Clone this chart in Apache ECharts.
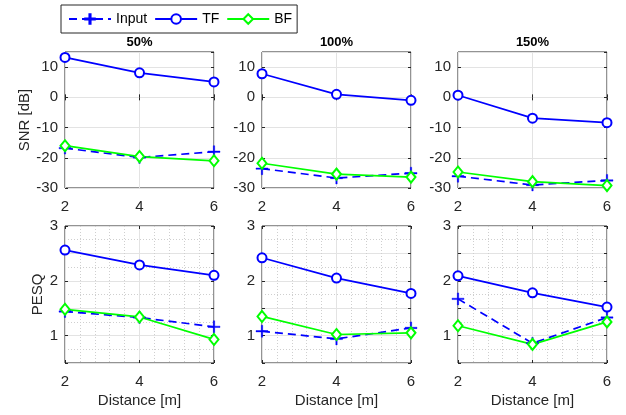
<!DOCTYPE html>
<html><head><meta charset="utf-8">
<script src="https://cdn.jsdelivr.net/npm/echarts@6/dist/echarts.min.js"></script>
<style>html,body{margin:0;padding:0;background:#fff}#c{width:626px;height:415px}</style>
</head><body><div id="c"></div>
<script>
const distances = [2, 4, 6];
const panelTitles = ['50%', '100%', '150%'];
const seriesNames = ['Input', 'TF', 'BF'];
const snrTicks = [-30, -20, -10, 0, 10];
const pesqTicks = [1, 2, 3];

const snrInput50 = [-16.8, -19.9, -18.0];
const snrTF50 = [13.2, 8.1, 5.1];
const snrBF50 = [-16.0, -19.6, -21.0];
const snrInput100 = [-23.6, -26.7, -25.1];
const snrTF100 = [7.8, 1.0, -1.0];
const snrBF100 = [-21.8, -25.4, -26.4];
const snrInput150 = [-26.1, -29.0, -27.5];
const snrTF150 = [0.7, -6.9, -8.4];
const snrBF150 = [-24.7, -27.9, -29.2];

const pesqInput50 = [1.44, 1.33, 1.16];
const pesqTF50 = [2.56, 2.29, 2.10];
const pesqBF50 = [1.48, 1.34, 0.93];
const pesqInput100 = [1.08, 0.94, 1.14];
const pesqTF100 = [2.42, 2.05, 1.77];
const pesqBF100 = [1.35, 1.02, 1.05];
const pesqInput150 = [1.67, 0.86, 1.33];
const pesqTF150 = [2.09, 1.78, 1.52];
const pesqBF150 = [1.18, 0.84, 1.25];

const snrData = [
  [snrInput50, snrTF50, snrBF50],
  [snrInput100, snrTF100, snrBF100],
  [snrInput150, snrTF150, snrBF150]
];
const pesqData = [
  [pesqInput50, pesqTF50, pesqBF50],
  [pesqInput100, pesqTF100, pesqBF100],
  [pesqInput150, pesqTF150, pesqBF150]
];

const FONT = 'Liberation Sans, Arial, Helvetica, sans-serif';
const TXT = '#262626';
const colLeft = [65, 262, 458];
const colWidth = 149;
const rowTop = [52, 226];
const rowHeight = [136, 137];
const plusPath = 'path://M5.3,0H6.7V5.3H12V6.7H6.7V12H5.3V6.7H0V5.3H5.3Z';

const styles = [
  { color: '#0000ff', symbol: plusPath, symbolSize: 12, lineType: [8, 5], bw: 0.4 },
  { color: '#0000ff', symbol: 'emptyCircle', symbolSize: 9, lineType: 'solid', bw: 1.6 },
  { color: '#00ff00', symbol: 'emptyDiamond', symbolSize: [9, 11], lineType: 'solid', bw: 1.6 }
];

const grids = [], xAxes = [], yAxes = [], series = [], titles = [];
const tickOnly = { show: true, inside: true, length: 3, lineStyle: { color: TXT } };
let gi = 0;
for (let r = 0; r < 2; r++) {
  for (let c = 0; c < 3; c++) {
    grids.push({
      left: colLeft[c], top: rowTop[r], width: colWidth, height: rowHeight[r],
      show: true, borderColor: TXT, borderWidth: 1, backgroundColor: '#fff', containLabel: false
    });
    const xMain = {
      type: 'value', gridIndex: gi, min: 2, max: 6, interval: 2, position: 'bottom',
      axisLine: { show: false },
      axisTick: tickOnly,
      axisLabel: { show: true, margin: 11, color: TXT, fontSize: 15, fontFamily: FONT },
      splitLine: { show: true, lineStyle: { color: '#e3e3e3', width: 1 } },
      minorTick: { show: r === 1, splitNumber: 5, length: 0 },
      minorSplitLine: { show: r === 1, lineStyle: { color: '#cfcfcf', type: [1, 2], width: 1 } },
      name: r === 1 ? 'Distance [m]' : '',
      nameLocation: 'middle', nameGap: 30,
      nameTextStyle: { color: TXT, fontSize: 15, fontFamily: FONT }
    };
    let yMain;
    if (r === 0) {
      yMain = {
        type: 'value', gridIndex: gi, min: -30, max: 15, interval: 10, position: 'left',
        axisLine: { show: false },
        axisTick: tickOnly,
        axisLabel: {
          show: true, margin: 7, color: TXT, fontSize: 15, fontFamily: FONT,
          showMaxLabel: false,
          formatter: v => snrTicks.includes(v) ? String(v) : ''
        },
        splitLine: { show: true, lineStyle: { color: '#e3e3e3', width: 1 } },
        name: c === 0 ? 'SNR [dB]' : '',
        nameLocation: 'middle', nameGap: 32,
        nameTextStyle: { color: TXT, fontSize: 15, fontFamily: FONT }
      };
    } else {
      yMain = {
        type: 'value', gridIndex: gi, min: 0.5, max: 3, interval: 0.5, position: 'left',
        axisLine: { show: false },
        axisTick: tickOnly,
        axisLabel: {
          show: true, margin: 7, color: TXT, fontSize: 15, fontFamily: FONT,
          formatter: v => pesqTicks.includes(v) ? String(v) : ''
        },
        splitLine: { show: true, lineStyle: { color: '#e3e3e3', width: 1 } },
        minorTick: { show: true, splitNumber: 2, length: 0 },
        minorSplitLine: { show: true, lineStyle: { color: '#cfcfcf', type: [1, 2], width: 1 } },
        name: c === 0 ? 'PESQ' : '',
        nameLocation: 'middle', nameGap: 20,
        nameTextStyle: { color: TXT, fontSize: 15, fontFamily: FONT }
      };
    }
    xAxes.push(xMain);
    yAxes.push(yMain);
    const sets = r === 0 ? snrData[c] : pesqData[c];
    for (let s = 0; s < 3; s++) {
      const st = styles[s];
      series.push({
        type: 'line', name: seriesNames[s], xAxisIndex: gi, yAxisIndex: gi,
        data: distances.map((d, i) => [d, sets[s][i]]),
        symbol: st.symbol, symbolSize: st.symbolSize, showSymbol: true,
        clip: false, animation: false,
        lineStyle: { color: st.color, width: 1.7, type: st.lineType },
        itemStyle: { color: st.color, borderColor: st.color, borderWidth: st.bw },
        emphasis: { disabled: true }
      });
    }
    gi++;
  }
}
// mirrored tick-only axes on top and right (box ticks)
const nGrid = gi;
for (let g = 0; g < nGrid; g++) {
  const r = g < 3 ? 0 : 1;
  xAxes.push({
    type: 'value', gridIndex: g, min: 2, max: 6, interval: 2, position: 'top',
    axisLine: { show: false }, axisTick: tickOnly, axisLabel: { show: false }, splitLine: { show: false }
  });
  yAxes.push(r === 0 ? {
    type: 'value', gridIndex: g, min: -30, max: 15, interval: 10, position: 'right',
    axisLine: { show: false }, axisTick: tickOnly, axisLabel: { show: false }, splitLine: { show: false }
  } : {
    type: 'value', gridIndex: g, min: 0.5, max: 3, interval: 0.5, position: 'right',
    axisLine: { show: false }, axisTick: tickOnly, axisLabel: { show: false }, splitLine: { show: false }
  });
}
for (let c = 0; c < 3; c++) {
  titles.push({
    text: panelTitles[c], left: colLeft[c] + colWidth / 2, top: 36, textAlign: 'center', padding: 0,
    textStyle: { fontSize: 13, fontWeight: 'bold', color: '#000', fontFamily: FONT }
  });
}

const chart = echarts.init(document.getElementById('c'), null, { renderer: 'canvas' });
chart.setOption({
  backgroundColor: '#fff',
  animation: false,
  title: titles,
  legend: {
    data: seriesNames, left: 61, top: 5, orient: 'horizontal',
    itemWidth: 42, itemHeight: 12, itemGap: 7,
    padding: [7, 5, 7, 7],
    borderColor: TXT, borderWidth: 1, backgroundColor: '#fff',
    textStyle: { fontSize: 14, color: '#000', fontFamily: FONT },
    selectedMode: false
  },
  grid: grids, xAxis: xAxes, yAxis: yAxes, series: series
});
</script></body></html>
